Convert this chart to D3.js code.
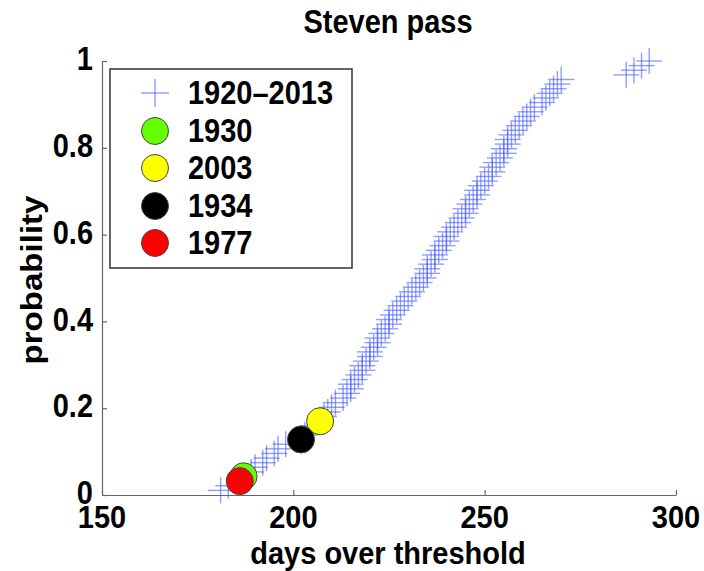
<!DOCTYPE html>
<html><head><meta charset="utf-8">
<script src="https://cdn.jsdelivr.net/npm/d3@7"></script>
<style>body{margin:0;background:#fff}svg{display:block}text{font-family:"Liberation Sans",Arial,Helvetica,sans-serif;font-weight:bold;fill:#000}</style>
</head><body><svg id="c" width="704" height="571"></svg>
<script>
// sorted days over threshold, 1920-2013 (empirical CDF)
const days = [181,183,186,187,189,190,192,193,195,196,198,202,203,204,205,207,208,209,210,211,
213,214,215,215,216,217,218,218,219,220,220,221,222,222,223,224,225,225,226,227,
228,229,230,231,232,233,234,235,235,236,237,237,238,239,240,240,241,242,243,244,
245,245,246,247,248,248,249,250,251,252,252,253,254,255,255,256,256,257,258,259,
260,261,262,263,265,266,267,268,269,270,287,289,291,293];
const highlightYears = ["1930","2003","1934","1977"];
const highlightDays = [187,207,202,186];
const highlightProb = [0.043,0.170,0.128,0.032];
const highlightColors = ["#66ff00","#ffff00","#000000","#ff0000"];
const xTicks = [150,200,250,300];
const yTicks = [0,0.2,0.4,0.6,0.8,1];
const yTickLabels = ["0","0.2","0.4","0.6","0.8","1"];
const seriesLabel = "1920\u20132013";

const svg = d3.select("#c");
const x = d3.scaleLinear().domain([150,300]).range([102,676]);
const y = d3.scaleLinear().domain([0,1]).range([495,61]);
const n = days.length;
const pts = days.map((d,i)=>({d, p:(i+1)/n}));
const FS = 29, SY = 1.14;

// axes
const axisColor = "#666";
const xAxis = svg.append("g").attr("transform","translate(0,495)")
  .call(d3.axisBottom(x).tickValues(xTicks).tickSize(-5).tickSizeOuter(0).tickFormat(""));
const yAxis = svg.append("g").attr("transform","translate(102,0)")
  .call(d3.axisLeft(y).tickValues(yTicks).tickSize(-5).tickSizeOuter(0).tickFormat(""));
[xAxis,yAxis].forEach(g=>{g.selectAll("path,line").attr("stroke",axisColor).attr("stroke-width",1.2);});

function txt(xp,yp,s,anchor,sy){
  return svg.append("text").attr("transform",`translate(${xp},${yp}) scale(1,${sy||SY})`)
    .attr("text-anchor",anchor).attr("dominant-baseline","central").style("font-size",FS+"px").text(s);
}
xTicks.forEach(t=>txt(x(t),517,String(t),"middle",1.05));
yTicks.forEach((t,i)=>txt(93,y(t)-2,yTickLabels[i],"end"));

// crosses
const cs = 13;
const cross = svg.append("g").attr("stroke","#4058ff").attr("stroke-opacity",0.58).attr("stroke-width",1.4);
pts.forEach(o=>{
  cross.append("line").attr("x1",x(o.d)-cs).attr("x2",x(o.d)+cs).attr("y1",y(o.p)).attr("y2",y(o.p));
  cross.append("line").attr("x1",x(o.d)).attr("x2",x(o.d)).attr("y1",y(o.p)-cs).attr("y2",y(o.p)+cs);
});
// highlighted years
highlightDays.forEach((d,i)=>{
  svg.append("circle").attr("cx",x(d)).attr("cy",y(highlightProb[i])).attr("r",13.5)
    .attr("fill",highlightColors[i]).attr("stroke","#444").attr("stroke-width",1);
});

// title & labels
txt(388,22,"Steven pass","middle");
txt(388,553,"days over threshold","middle",1.05);
svg.append("text").attr("transform",`translate(32,280) rotate(-90) scale(${SY},1)`)
  .attr("text-anchor","middle").attr("dominant-baseline","central").style("font-size",FS+"px").text("probability");

// legend
const lg = svg.append("g");
lg.append("rect").attr("x",110).attr("y",69).attr("width",242).attr("height",199)
  .attr("fill","#fff").attr("stroke","#333").attr("stroke-width",1.5);
const ly = [93,131,168,206,243];
lg.append("line").attr("x1",155-14).attr("x2",155+14).attr("y1",ly[0]).attr("y2",ly[0]).attr("stroke","#4058ff").attr("stroke-opacity",0.58).attr("stroke-width",1.4);
lg.append("line").attr("x1",155).attr("x2",155).attr("y1",ly[0]-14).attr("y2",ly[0]+14).attr("stroke","#4058ff").attr("stroke-opacity",0.58).attr("stroke-width",1.4);
txt(188,ly[0],seriesLabel,"start");
highlightYears.forEach((yr,i)=>{
  lg.append("circle").attr("cx",155).attr("cy",ly[i+1]).attr("r",13.5).attr("fill",highlightColors[i]).attr("stroke","#444").attr("stroke-width",1);
  txt(188,ly[i+1],yr,"start");
});
</script></body></html>
